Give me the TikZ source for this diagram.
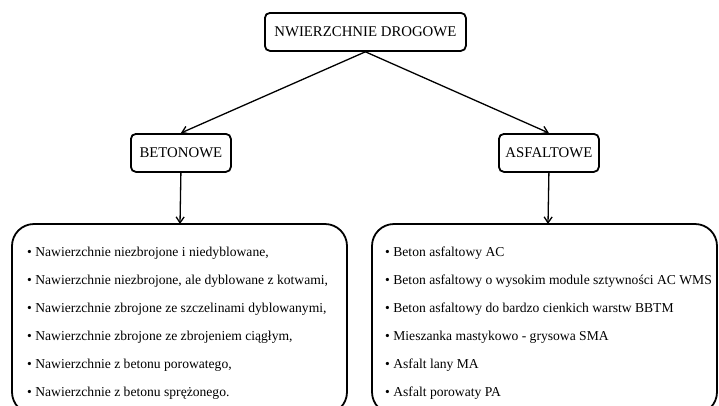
\documentclass[tikz,border=0pt]{standalone}
\usepackage{fontspec}
\setmainfont{Liberation Serif}
\usetikzlibrary{arrows.meta}
\begin{document}
\begin{tikzpicture}[x=1pt,y=-1pt,
  hdr/.style={draw,line width=1.8pt,rounded corners=5pt,minimum height=38pt,inner sep=0pt,anchor=north west},
  hdrtext/.style={font=\fontsize{14.8}{16}\selectfont},
  bigbox/.style={draw,line width=1.8pt,rounded corners=22pt},
  conn/.style={line width=1.3pt,-{Straight Barb[length=6pt,width=8pt]}},
  item/.style={anchor=west,inner sep=0pt,font=\fontsize{13.6}{15}\selectfont}
]
\useasboundingbox (0,0) rectangle (719,405);
\clip (0,0) rectangle (719,405);
% header boxes
\node[hdr,minimum width=201pt] (top) at (264,12) {};
\node[hdrtext] at (top.center) {NWIERZCHNIE DROGOWE};
\node[hdr,minimum width=100pt] (bet) at (130,133) {};
\node[hdrtext] at (bet.center) {BETONOWE};
\node[hdr,minimum width=100pt] (asf) at (498,133) {};
\node[hdrtext] at (asf.center) {ASFALTOWE};
% bottom boxes
\draw[bigbox] (12,224) rectangle (347,414);
\draw[bigbox] (372,224) rectangle (717,414);
\coordinate (lt) at (180,224);
\coordinate (rt) at (548,224);
% connectors
\draw[conn] (top.south) -- (bet.north);
\draw[conn] (top.south) -- (asf.north);
\draw[conn] (bet.south) -- (lt);
\draw[conn] (asf.south) -- (rt);
% left items
\foreach \t [count=\i] in {
  {Nawierzchnie niezbrojone i niedyblowane,},
  {Nawierzchnie niezbrojone, ale dyblowane z kotwami,},
  {Nawierzchnie zbrojone ze szczelinami dyblowanymi,},
  {Nawierzchnie zbrojone ze zbrojeniem ciągłym,},
  {Nawierzchnie z betonu porowatego,},
  {Nawierzchnie z betonu sprężonego.}}
  {\node[item] (l\i) at (27,{253+28*(\i-1)}) {\textbullet\ \t};}
\foreach \t [count=\i] in {
  Beton asfaltowy AC,
  Beton asfaltowy o wysokim module sztywności AC WMS,
  Beton asfaltowy do bardzo cienkich warstw BBTM,
  Mieszanka mastykowo - grysowa SMA,
  Asfalt lany MA,
  Asfalt porowaty PA}
  {\node[item] (r\i) at (385,{253+28*(\i-1)}) {\textbullet\ \t};}
\end{tikzpicture}
\end{document}
